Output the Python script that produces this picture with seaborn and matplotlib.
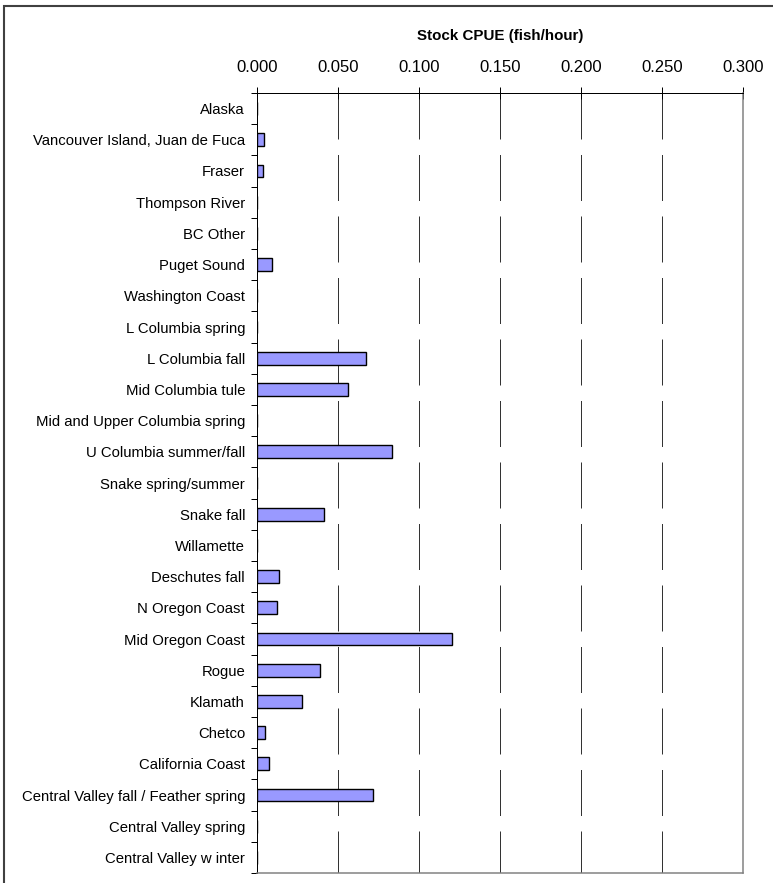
import numpy as np
import pandas as pd
import matplotlib
matplotlib.use("Agg")
import matplotlib.pyplot as plt
import matplotlib.patches as mpatches
import seaborn as sns

stocks = [
    "Alaska", "Vancouver Island, Juan de Fuca", "Fraser", "Thompson River",
    "BC Other", "Puget Sound", "Washington Coast", "L Columbia spring",
    "L Columbia fall", "Mid Columbia tule", "Mid and Upper Columbia spring",
    "U Columbia summer/fall", "Snake spring/summer", "Snake fall", "Willamette",
    "Deschutes fall", "N Oregon Coast", "Mid Oregon Coast", "Rogue", "Klamath",
    "Chetco", "California Coast", "Central Valley fall / Feather spring",
    "Central Valley spring", "Central Valley w inter",
]
cpue = [
    0.0, 0.0041, 0.0040, 0.0, 0.0, 0.0091, 0.0, 0.0,
    0.0671, 0.0560, 0.0, 0.0833, 0.0, 0.0416, 0.0,
    0.0134, 0.0125, 0.1206, 0.0389, 0.0278, 0.0047, 0.0074,
    0.0714, 0.0, 0.0,
]
x_ticks = [0.0, 0.05, 0.10, 0.15, 0.20, 0.25, 0.30]
title = "Stock CPUE (fish/hour)"

sns.set_theme(style="white")
plt.rcParams["font.family"] = ["Liberation Sans", "DejaVu Sans"]

df = pd.DataFrame({"stock": stocks, "cpue": cpue})

W, H = 773, 883
fig = plt.figure(figsize=(W / 100, H / 100), dpi=100)
fig.patch.set_facecolor("white")
ax = fig.add_axes([257 / W, 1 - 873 / H, (743 - 257) / W, (873 - 93) / H])

sns.barplot(data=df, x="cpue", y="stock", orient="h", color="#9999FF",
            saturation=1, width=0.41, edgecolor="black", linewidth=1.0, ax=ax)

n = len(stocks)
ax.set_xlim(0, 0.3)
ax.set_ylim(n - 0.5, -0.5)

# gridlines (dashed) drawn from top to bottom
px = 0.72
ax.vlines(x_ticks[1:-1], -0.5, n - 0.5, colors="#333333", linewidth=px,
          linestyles=[(0, (46, 15.5))], zorder=0.5)

ax.xaxis.tick_top()
ax.set_xticks(x_ticks)
ax.set_xticklabels([f"{v:.3f}" for v in x_ticks], fontsize=12, color="black")
ax.tick_params(axis="x", which="major", direction="inout", length=8, width=px,
               color="black", pad=9, top=True, bottom=False)

ax.set_yticks(np.arange(-0.5, n, 1.0))
ax.set_yticklabels([])
ax.set_yticks(np.arange(n), minor=True)
ax.set_yticklabels(stocks, minor=True, fontsize=10.7, color="black")
ax.tick_params(axis="y", which="major", direction="out", length=4.5, width=px,
               color="black", left=True)
ax.tick_params(axis="y", which="minor", length=0, pad=8.6)

ax.set_xlabel("")
ax.set_ylabel("")

for side in ["left", "top"]:
    ax.spines[side].set_color("black")
    ax.spines[side].set_linewidth(px)
for side in ["right", "bottom"]:
    ax.spines[side].set_color("#808080")
    ax.spines[side].set_linewidth(px * 1.5)
    ax.spines[side].set_visible(True)

fig.text(500 / W, 1 - 36 / H, title, ha="center", va="center",
         fontsize=10.9, fontweight="bold", color="black")

frame = mpatches.Rectangle((4 / W, -0.2), 2.0, 1.2 - 6 / H, transform=fig.transFigure,
                           fill=False, edgecolor="#404040", linewidth=1.5,
                           clip_on=False)
fig.add_artist(frame)

fig.savefig("out.png", dpi=100, facecolor="white")
